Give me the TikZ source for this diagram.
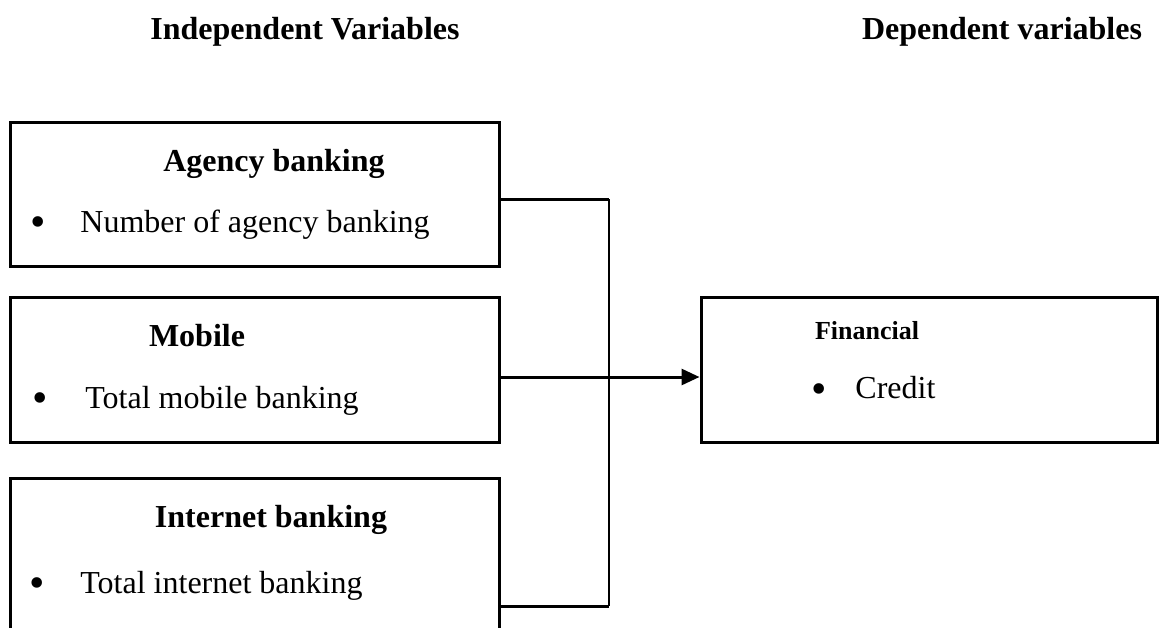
\documentclass[tikz,border=0pt]{standalone}
\usepackage{fontspec}
\setmainfont{Liberation Serif}
\usetikzlibrary{arrows.meta}
\tikzset{
  box/.style={draw, line width=1.5pt, minimum width=244.5pt, inner sep=0pt},
  txt/.style={anchor=base west, inner sep=0pt, font=\fontsize{16}{19}\selectfont},
  ttl/.style={anchor=base, inner sep=0pt, font=\fontsize{16}{19}\selectfont\bfseries},
  bul/.style={anchor=base, inner sep=0pt, font=\fontsize{22}{24}\selectfont},
  link/.style={line width=1.5pt},
  thin link/.style={line width=0.8pt},
}
\begin{document}
\begin{tikzpicture}[x=0.5pt, y=-0.5pt]
\useasboundingbox (0,0) rectangle (1167,627);
\clip (0,0) rectangle (1167,627);
% headings
\node[ttl] (hind) at (305,39) {Independent Variables};
\node[ttl] (hdep) at (1002,39) {Dependent variables};
% boxes
\node[box, minimum height=72pt] (agency) at (254.5,194) {};
\node[box, minimum height=72.5pt] (mobile) at (254.5,369.5) {};
\node[box, minimum height=85pt] (internet) at (254.5,563) {};
\node[box, minimum width=228pt, minimum height=72.5pt] (fin) at (929,369.5) {};
% texts
\node[ttl] (agt) at (274,171) {Agency banking};
\node[bul] (agb) at (38,236) {\textbullet};
\node[txt] (agx) at (80,232) {Number of agency banking};
\node[ttl] (mot) at (197,346) {Mobile};
\node[bul] (mob) at (40,412) {\textbullet};
\node[txt] (mox) at (85,408) {Total mobile banking};
\node[ttl] (int) at (271,527) {Internet banking};
\node[bul] (inb) at (37,597) {\textbullet};
\node[txt] (inx) at (80,593) {Total internet banking};
\node[ttl, font=\fontsize{13}{16}\selectfont\bfseries] (fit) at (867,339) {Financial};
\node[bul] (fib) at (819,403) {\textbullet};
\node[txt] (fix) at (855,398) {Credit};
% connectors
\coordinate (j1) at (609,199);
\coordinate (j3) at (609,606);
\coordinate (ja) at (609,377);
\draw[link] (agency.east |- j1) -- (j1);
\draw[link] (internet.east |- j3) -- (j3);
\draw[thin link] (j1) -- (j3);
\draw[link, -{Triangle[length=9pt,width=8pt]}] (mobile.east |- ja) -- (fin.west |- ja);
\end{tikzpicture}
\end{document}
